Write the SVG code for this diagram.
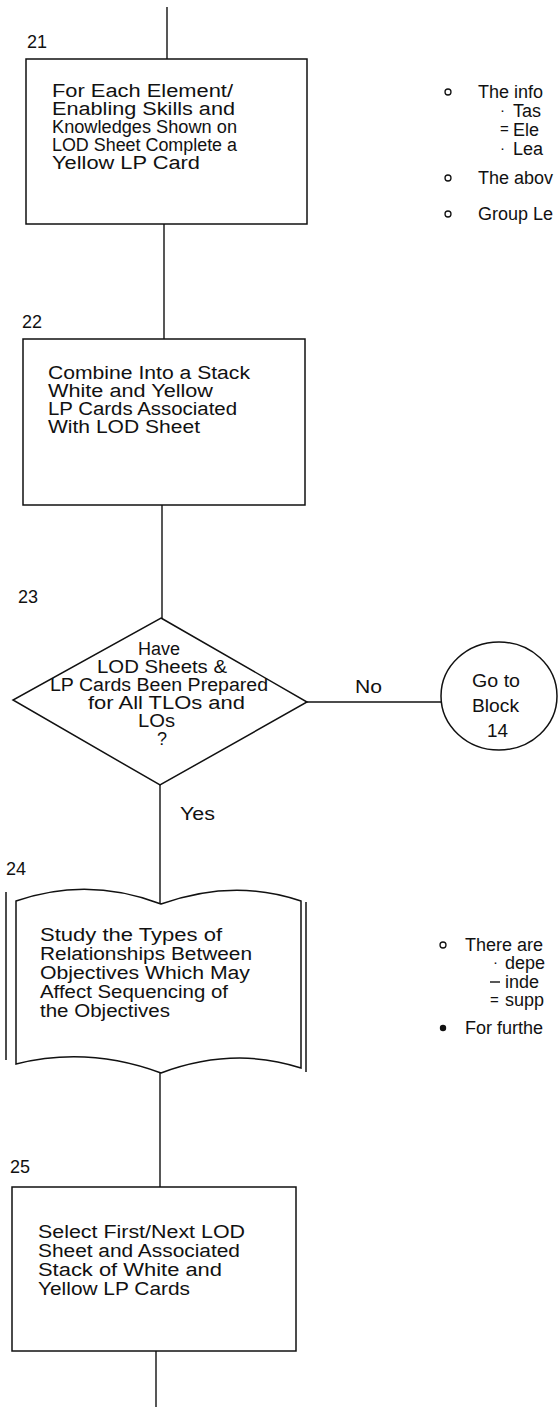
<svg xmlns="http://www.w3.org/2000/svg" width="558" height="1407" viewBox="0 0 558 1407">
<style>
  .shape { fill: none; stroke: #111; stroke-width: 1.5; }
  .conn { fill: none; stroke: #111; stroke-width: 1.4; }
  text { font-family: "Liberation Sans", Arial, sans-serif; font-size: 18px; fill: #111; }
  .num { font-size: 18px; }
  .note { font-size: 18px; }
  .mark { font-size: 15px; }
  .bul { fill: none; stroke: #111; stroke-width: 1.3; }
</style>
<rect width="558" height="1407" fill="#fff"/>

<g id="connectors">
  <line class="conn" x1="167" y1="7" x2="167" y2="59"/>
  <line class="conn" x1="164" y1="224" x2="164" y2="339"/>
  <line class="conn" x1="162" y1="505" x2="162" y2="618"/>
  <line class="conn" x1="160" y1="785" x2="160" y2="904"/>
  <line class="conn" x1="307" y1="702" x2="441" y2="702"/>
  <line class="conn" x1="160" y1="1073" x2="160" y2="1187"/>
  <line class="conn" x1="156" y1="1351" x2="156" y2="1407"/>
  <text x="355" y="693" textLength="27" lengthAdjust="spacingAndGlyphs">No</text>
  <text x="180" y="820" textLength="35" lengthAdjust="spacingAndGlyphs">Yes</text>
</g>

<g id="node21">
  <rect class="shape" x="26" y="59" width="281" height="165"/>
  <text class="num" x="27" y="48">21</text>
  <text x="52" y="97" textLength="181" lengthAdjust="spacingAndGlyphs">For Each Element/</text>
  <text x="52" y="115" textLength="183" lengthAdjust="spacingAndGlyphs">Enabling Skills and</text>
  <text x="52" y="133" textLength="185" lengthAdjust="spacingAndGlyphs">Knowledges Shown on</text>
  <text x="52" y="151" textLength="185" lengthAdjust="spacingAndGlyphs">LOD Sheet Complete a</text>
  <text x="52" y="169" textLength="148" lengthAdjust="spacingAndGlyphs">Yellow LP Card</text>
</g>

<g id="note21">
  <circle class="bul" cx="448" cy="92" r="3"/>
  <text class="note" x="478" y="98">The info</text>
  <text class="mark" x="500" y="115">·</text>
  <text class="note" x="513" y="117">Tas</text>
  <text class="mark" x="500" y="134">=</text>
  <text class="note" x="513" y="136">Ele</text>
  <text class="mark" x="500" y="153">·</text>
  <text class="note" x="513" y="155">Lea</text>
  <circle class="bul" cx="448" cy="178" r="3"/>
  <text class="note" x="478" y="184">The abov</text>
  <circle class="bul" cx="448" cy="214" r="3"/>
  <text class="note" x="478" y="220">Group Le</text>
</g>

<g id="node22">
  <rect class="shape" x="23" y="339" width="282" height="166"/>
  <text class="num" x="22" y="328">22</text>
  <text x="48" y="379" textLength="202" lengthAdjust="spacingAndGlyphs">Combine Into a Stack</text>
  <text x="48" y="397" textLength="165" lengthAdjust="spacingAndGlyphs">White and Yellow</text>
  <text x="48" y="415" textLength="189" lengthAdjust="spacingAndGlyphs">LP Cards Associated</text>
  <text x="48" y="433" textLength="152" lengthAdjust="spacingAndGlyphs">With LOD Sheet</text>
</g>

<g id="node23">
  <polygon class="shape" points="161,618 307,702 160,785 13,700"/>
  <text class="num" x="18" y="603">23</text>
  <text x="138" y="655" textLength="42" lengthAdjust="spacingAndGlyphs">Have</text>
  <text x="97" y="673" textLength="130" lengthAdjust="spacingAndGlyphs">LOD Sheets &amp;</text>
  <text x="50" y="691" textLength="218" lengthAdjust="spacingAndGlyphs">LP Cards Been Prepared</text>
  <text x="88" y="709" textLength="157" lengthAdjust="spacingAndGlyphs">for All TLOs and</text>
  <text x="138" y="727" textLength="37" lengthAdjust="spacingAndGlyphs">LOs</text>
  <text x="157" y="745" font-size="13">?</text>
</g>

<g id="node14ref">
  <ellipse class="shape" cx="499" cy="696" rx="58" ry="54"/>
  <text x="472" y="687" textLength="48" lengthAdjust="spacingAndGlyphs">Go to</text>
  <text x="472" y="712" textLength="47" lengthAdjust="spacingAndGlyphs">Block</text>
  <text x="487" y="737" textLength="21" lengthAdjust="spacingAndGlyphs">14</text>
</g>

<g id="node24">
  <path class="shape" d="M16,901 Q88,876 161,904 Q234,878 301,901 L301,1068 Q234,1046 161,1073 Q88,1046 16,1064 Z"/>
  <line class="shape" x1="6" y1="892" x2="6" y2="1060"/>
  <line class="shape" x1="306" y1="902" x2="306" y2="1072"/>
  <text class="num" x="6" y="875">24</text>
  <text x="40" y="941" textLength="182" lengthAdjust="spacingAndGlyphs">Study the Types of</text>
  <text x="40" y="960" textLength="212" lengthAdjust="spacingAndGlyphs">Relationships Between</text>
  <text x="40" y="979" textLength="210" lengthAdjust="spacingAndGlyphs">Objectives Which May</text>
  <text x="40" y="998" textLength="188" lengthAdjust="spacingAndGlyphs">Affect Sequencing of</text>
  <text x="40" y="1017" textLength="130" lengthAdjust="spacingAndGlyphs">the Objectives</text>
</g>

<g id="note24">
  <circle class="bul" cx="443" cy="945" r="3"/>
  <text class="note" x="465" y="951">There are</text>
  <text class="mark" x="493" y="967">·</text>
  <text class="note" x="505" y="969">depe</text>
  <line class="conn" x1="490" y1="982" x2="500" y2="982"/>
  <text class="note" x="505" y="988">inde</text>
  <text class="mark" x="490" y="1005">=</text>
  <text class="note" x="505" y="1006">supp</text>
  <circle cx="443" cy="1028" r="3.2" fill="#111"/>
  <text class="note" x="465" y="1034">For furthe</text>
</g>

<g id="node25">
  <rect class="shape" x="12" y="1187" width="284" height="164"/>
  <text class="num" x="10" y="1173">25</text>
  <text x="38" y="1238" textLength="207" lengthAdjust="spacingAndGlyphs">Select First/Next LOD</text>
  <text x="38" y="1257" textLength="202" lengthAdjust="spacingAndGlyphs">Sheet and Associated</text>
  <text x="38" y="1276" textLength="184" lengthAdjust="spacingAndGlyphs">Stack of White and</text>
  <text x="38" y="1295" textLength="152" lengthAdjust="spacingAndGlyphs">Yellow LP Cards</text>
</g>
</svg>
